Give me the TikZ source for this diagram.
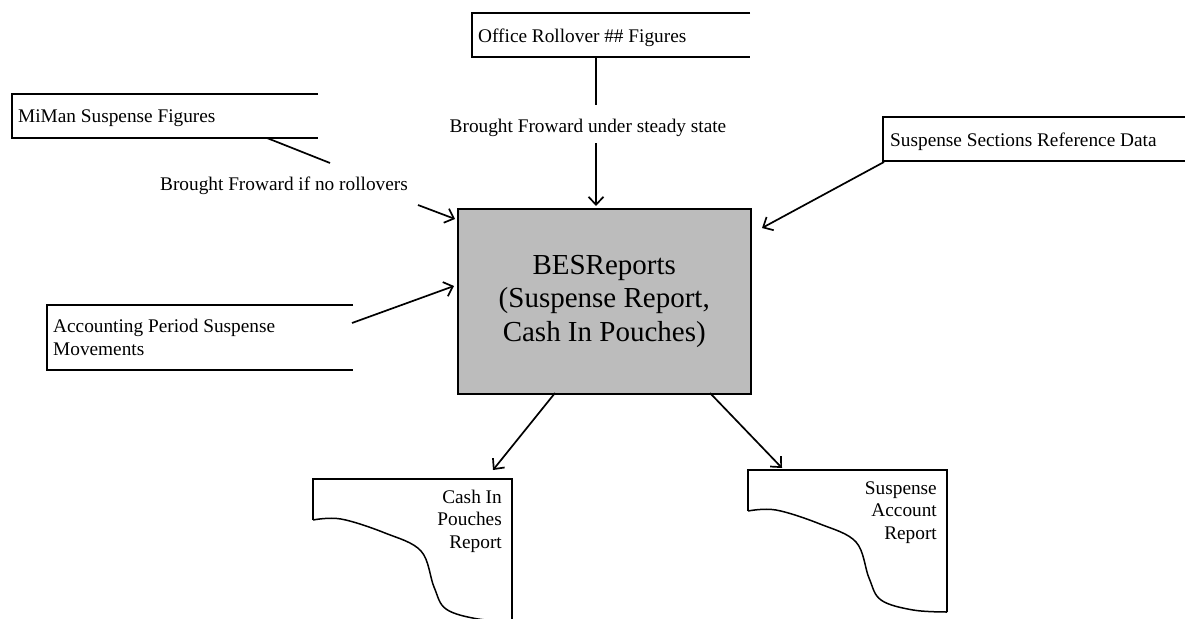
\documentclass[tikz,border=0pt]{standalone}
\usepackage{fontspec}
\setmainfont{Liberation Serif}
\usetikzlibrary{arrows.meta}
\definecolor{boxgray}{RGB}{188,188,188}
\begin{document}
\begin{tikzpicture}[x=1pt,y=-1pt,
  outline/.style={line width=1.5pt, line join=miter},
  conn/.style={line width=1.7pt},
  flow/.style={conn, -{Straight Barb[length=8pt,width=15pt,line width=1.7pt]}},
  small/.style={font=\fontsize{19.3}{22.2}\selectfont, inner sep=0pt},
  big/.style={font=\fontsize{29}{33.4}\selectfont, align=center},
]
\useasboundingbox (0,0) rectangle (1185,618);

% central process box
\node[draw, outline, fill=boxgray, minimum width=293pt, minimum height=185pt,
      inner sep=0pt, anchor=north west, big] (main) at (457,208)
  {BESReports\\(Suspense Report,\\Cash In Pouches)};

% open-ended data stores
\draw[outline] (318,94) -| (12,138) -- (318,138);
\node[small, anchor=base west] (miman) at (18,122) {MiMan Suspense Figures};

\draw[outline] (750,13) -| (472,57) -- (750,57);
\node[small, anchor=base west] (office) at (478,42) {Office Rollover \#\# Figures};

\draw[outline] (1185,117) -| (883,161) -- (1185,161);
\node[small, anchor=base west] (suspsec) at (890,146) {Suspense Sections Reference Data};

\draw[outline] (353,305) -| (47,370) -- (353,370);
\node[small, anchor=base west, align=left] (accperiod) at (53,355)
  {Accounting Period Suspense\\Movements};

% flow labels
\node[small, anchor=base] (lblroll) at (284,190) {Brought Froward if no rollovers};
\node[small, anchor=base] (lblsteady) at (588,132) {Brought Froward under steady state};

% connector end points
\coordinate (miman-out) at (267,138);
\coordinate (roll-in) at (330,163);
\coordinate (roll-out) at (418,205);
\coordinate (main-w1) at (455,219);
\coordinate (office-out) at (596,57);
\coordinate (steady-in) at (596,105);
\coordinate (steady-out) at (596,143);
\coordinate (main-n) at (596,206);
\coordinate (suspsec-out) at (884,162);
\coordinate (main-ne) at (762,228);
\coordinate (acc-out) at (352,323);
\coordinate (main-w2) at (454,286);
\coordinate (main-s1) at (555,393);
\coordinate (cash-in) at (493,470);
\coordinate (main-s2) at (710,393);
\coordinate (susp-in) at (782,468);

% connectors
\draw[conn] (miman-out) -- (roll-in);
\draw[flow] (roll-out) -- (main-w1);
\draw[conn] (office-out) -- (steady-in);
\draw[flow] (steady-out) -- (main-n);
\draw[flow] (suspsec-out) -- (main-ne);
\draw[flow] (acc-out) -- (main-w2);
\draw[flow] (main-s1) -- (cash-in);
\draw[flow] (main-s2) -- (susp-in);

% report documents
\begin{scope}[shift={(313,479)}]
  \draw[outline] (0,41) -- (0,0) -- (199,0) -- (199,142);
  \draw[outline] plot[smooth, tension=0.6] coordinates
    {(0,41) (28,40) (72,54) (108,72) (121,108) (133,130) (165,140) (199,142)};
  \node[small, anchor=base east, align=right] (cashdoc) at (189,69)
    {Cash In\\Pouches\\Report};
\end{scope}

\begin{scope}[shift={(748,470)}]
  \draw[outline] (0,41) -- (0,0) -- (199,0) -- (199,142);
  \draw[outline] plot[smooth, tension=0.6] coordinates
    {(0,41) (28,40) (72,54) (108,72) (121,108) (133,130) (165,140) (199,142)};
  \node[small, anchor=base east, align=right] (suspdoc) at (189,69)
    {Suspense\\Account\\Report};
\end{scope}
\end{tikzpicture}
\end{document}
